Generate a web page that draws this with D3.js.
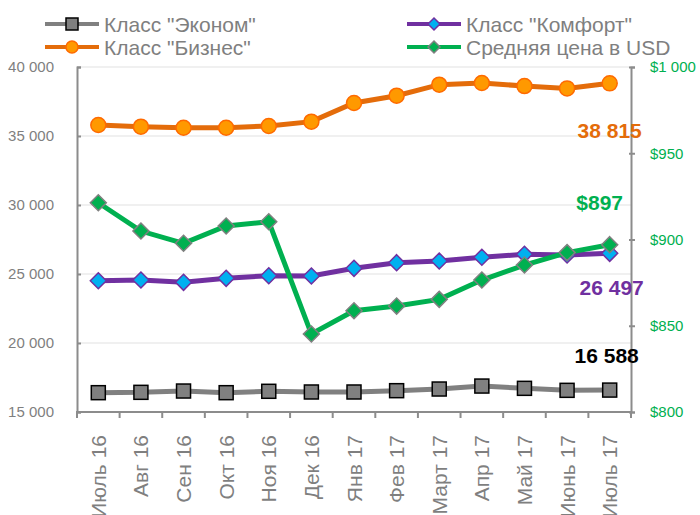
<!DOCTYPE html>
<html><head><meta charset="utf-8">
<script src="https://cdn.jsdelivr.net/npm/d3@7"></script>
<style>
body{margin:0;background:#fff;}
svg{font-family:"Liberation Sans",Arial,sans-serif;}
</style></head>
<body><svg id="chart" width="700" height="515"></svg>
<script>
const categories = ["Июль 16","Авг 16","Сен 16","Окт 16","Ноя 16","Дек 16","Янв 17","Фев 17","Март 17","Апр 17","Май 17","Июнь 17","Июль 17"];
const economy  = [16400,16425,16520,16400,16500,16450,16450,16545,16665,16880,16715,16570,16588];
const comfort  = [24514,24565,24396,24686,24877,24855,25410,25820,25940,26210,26425,26375,26497];
const business = [35797,35674,35600,35600,35725,36040,37390,37920,38720,38840,38620,38450,38815];
const usd      = [921.3,904.9,897.8,907.8,910.3,845.2,858.7,861.4,865.3,876.5,885.2,892.4,897];
const leftTicks  = [15000,20000,25000,30000,35000,40000];
const rightTicks = [800,850,900,950,1000];
const seriesNames = ['Класс "Эконом"','Класс "Комфорт"','Класс "Бизнес"','Средняя цена в USD'];

const svg = d3.select("#chart");
const L = 77, R = 631, T = 67, B = 412;
const x = d3.scaleBand().domain(categories).range([L, R]);
const cx = d => x(d) + x.bandwidth()/2;
const yL = d3.scaleLinear().domain([15000,40000]).range([B, T]);
const yR = d3.scaleLinear().domain([800,1000]).range([B, T]);
const loc = d3.formatLocale({thousands:"\u00a0", grouping:[3], decimal:",", currency:["$",""]});
const fmtL = loc.format(",d");
const fmtR = loc.format("$,d");
const gray = "#7f7f7f", axisCol = "#8c8c8c";

// gridlines
svg.append("g").selectAll("line").data(leftTicks.slice(1)).join("line")
  .attr("x1", L).attr("x2", R).attr("y1", d=>yL(d)).attr("y2", d=>yL(d))
  .attr("stroke", "#ebebeb").attr("stroke-width", 1.5);

// left axis
const gl = svg.append("g").attr("transform", `translate(${L},0)`)
  .call(d3.axisLeft(yL).tickValues(leftTicks).tickFormat(fmtL).tickSize(-4).tickPadding(23));
gl.select(".domain").attr("stroke", axisCol).attr("stroke-width", 2);
gl.selectAll(".tick line").attr("stroke", axisCol).attr("stroke-width", 2);
gl.selectAll("text").attr("fill", gray).attr("font-size", 15).attr("font-family", "Liberation Sans, Arial");

// right axis
const gr = svg.append("g").attr("transform", `translate(${R},0)`)
  .call(d3.axisRight(yR).tickValues(rightTicks).tickFormat(fmtR).tickSize(4).tickPadding(15));
gr.select(".domain").attr("stroke", axisCol).attr("stroke-width", 2);
gr.selectAll(".tick line").attr("stroke", axisCol).attr("stroke-width", 2).attr("x1", -2);
gr.selectAll("text").attr("fill", "#00b050").attr("font-size", 15).attr("font-family", "Liberation Sans, Arial");

// bottom axis
const gb = svg.append("g").attr("transform", `translate(0,${B})`);
gb.append("line").attr("x1", L-1).attr("x2", R).attr("y1", 0).attr("y2", 0)
  .attr("stroke", axisCol).attr("stroke-width", 2);
gb.selectAll("line.tk").data(categories.concat([null])).join("line").attr("class","tk")
  .attr("x1", (d,i)=> i<categories.length ? x(d) : R).attr("x2", (d,i)=> i<categories.length ? x(d) : R)
  .attr("y1", 0).attr("y2", 6).attr("stroke", axisCol).attr("stroke-width", 2);
gb.selectAll("text").data(categories).join("text")
  .attr("transform", d=>`translate(${cx(d)},23) rotate(-90)`)
  .attr("text-anchor","end").attr("dy","0.36em")
  .attr("fill", gray).attr("font-size", 21).text(d=>d);

const line = (yS) => d3.line().x((d,i)=>cx(categories[i])).y(d=>yS(d));
const diamond = (s) => `M0,${-s}L${s},0L0,${s}L${-s},0Z`;

// Economy
svg.append("path").datum(economy).attr("d", line(yL)).attr("fill","none")
  .attr("stroke","#808080").attr("stroke-width",5);
svg.append("g").selectAll("rect").data(economy).join("rect")
  .attr("x",(d,i)=>cx(categories[i])-7).attr("y",d=>yL(d)-7).attr("width",14).attr("height",14)
  .attr("fill","#808080").attr("stroke","#000").attr("stroke-width",1.5);

// Business
svg.append("path").datum(business).attr("d", line(yL)).attr("fill","none")
  .attr("stroke","#e46c0a").attr("stroke-width",5);
svg.append("g").selectAll("circle").data(business).join("circle")
  .attr("cx",(d,i)=>cx(categories[i])).attr("cy",d=>yL(d)).attr("r",7.5)
  .attr("fill","#ff9900").attr("stroke","#ff6a00").attr("stroke-width",1.5);

// Comfort
svg.append("path").datum(comfort).attr("d", line(yL)).attr("fill","none")
  .attr("stroke","#7030a0").attr("stroke-width",5);
svg.append("g").selectAll("path").data(comfort).join("path")
  .attr("transform",(d,i)=>`translate(${cx(categories[i])},${yL(d)})`).attr("d", diamond(8))
  .attr("fill","#00b0f0").attr("stroke","#7030a0").attr("stroke-width",1.5);

// USD
svg.append("path").datum(usd).attr("d", line(yR)).attr("fill","none")
  .attr("stroke","#00b050").attr("stroke-width",5);
svg.append("g").selectAll("path").data(usd).join("path")
  .attr("transform",(d,i)=>`translate(${cx(categories[i])},${yR(d)})`).attr("d", diamond(8))
  .attr("fill","#00b050").attr("stroke","#808080").attr("stroke-width",1.5);

// end labels
const last = categories.length-1, lx = cx(categories[last]);
const lbl = (txt, y, col, dx) => svg.append("text").attr("x", lx+dx).attr("y", y).attr("dy","0.36em")
  .attr("text-anchor","middle").attr("font-size",21).attr("font-weight","bold").attr("fill",col).text(txt);
lbl(fmtL(business[last]), yL(business[last])+47, "#e46c0a", 0);
lbl(fmtR(Math.round(usd[last])), yR(usd[last])-42, "#00b050", -10);
lbl(fmtL(comfort[last]), yL(comfort[last])+34, "#7030a0", 2);
lbl(fmtL(economy[last]), yL(economy[last])-35, "#000", -3);

// legend
const leg = [
  {name:seriesNames[0], x:45, y:24, col:"#808080", m:"sq"},
  {name:seriesNames[2], x:45, y:47, col:"#e46c0a", m:"ci"},
  {name:seriesNames[1], x:407, y:24, col:"#7030a0", m:"di1"},
  {name:seriesNames[3], x:407, y:47, col:"#00b050", m:"di2"}
];
const lg = svg.append("g").selectAll("g").data(leg).join("g").attr("transform",d=>`translate(${d.x},${d.y})`);
lg.append("line").attr("x1",0).attr("x2",54).attr("stroke",d=>d.col).attr("stroke-width",4);
lg.each(function(d){
  const g = d3.select(this);
  if(d.m==="sq") g.append("rect").attr("x",21).attr("y",-6).attr("width",12).attr("height",12).attr("fill","#808080").attr("stroke","#000").attr("stroke-width",1.5);
  if(d.m==="ci") g.append("circle").attr("cx",27).attr("r",6).attr("fill","#ff9900").attr("stroke","#ff6a00").attr("stroke-width",1.5);
  if(d.m==="di1") g.append("path").attr("transform","translate(27,0)").attr("d",diamond(6)).attr("fill","#00b0f0").attr("stroke","#7030a0").attr("stroke-width",1.5);
  if(d.m==="di2") g.append("path").attr("transform","translate(27,0)").attr("d",diamond(6)).attr("fill","#00b050").attr("stroke","#808080").attr("stroke-width",1.5);
});
lg.append("text").attr("x",59).attr("dy","0.36em").attr("font-size",21).attr("fill",gray).text(d=>d.name);
</script></body></html>
